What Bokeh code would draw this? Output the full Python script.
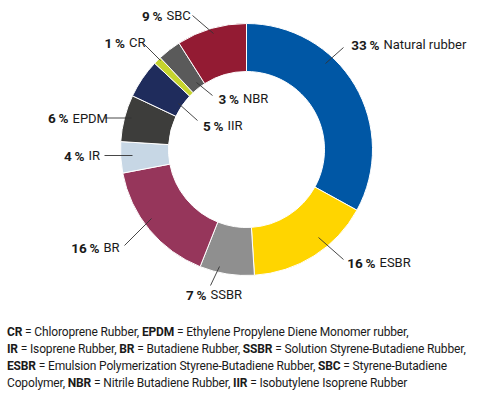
import numpy as np
from bokeh.plotting import figure
from bokeh.models import Range1d, ColumnDataSource, Div
from bokeh.layouts import column
from bokeh.core.properties import value
from bokeh.embed import file_html
from bokeh.resources import INLINE

# ---- data ----
categories = ["Natural rubber", "ESBR", "SSBR", "BR", "IR", "EPDM", "IIR", "CR", "NBR", "SBC"]
shares = [33, 16, 7, 16, 4, 6, 5, 1, 3, 9]
colors = ["#0057A5", "#FFD500", "#8F8F8F", "#96365B", "#C7D7E5",
          "#3D3D3B", "#1F2C5C", "#C6D42E", "#5A5A5A", "#931B33"]

abbrevs = ["CR", "EPDM", "IR", "BR", "SSBR", "ESBR", "SBC", "NBR", "IIR"]
full_names = ["Chloroprene Rubber", "Ethylene Propylene Diene Monomer rubber",
              "Isoprene Rubber", "Butadiene Rubber", "Solution Styrene-Butadiene Rubber",
              "Emulsion Polymerization Styrene-Butadiene Rubber", "Styrene-Butadiene Copolymer",
              "Nitrile Butadiene Rubber", "Isobutylene Isoprene Rubber"]

# ---- layout (page pixel coordinates) ----
W, H = 500, 320
def px(x):
    return x
def py(y):
    return H - y

CX, CY = 246, 149
R_OUT, R_IN = 126, 78

# label layout: boundary x between bold pct and name, y, leader from (x0,y0) to (x1,y1)
label_layout = {
    "Natural rubber": (381, 44, (325, 63), (343, 47)),
    "ESBR": (377, 262, (318, 237), (343, 259)),
    "SSBR": (208, 294, (219, 266), (210, 285)),
    "BR": (101, 247, (151, 218), (124, 245)),
    "IR": (86, 155, (132, 155), (104, 155)),
    "EPDM": (70, 117.5, (131, 117.5), (104, 117.5)),
    "IIR": (225, 125, (178, 103), (197, 120)),
    "CR": (126.5, 42, (160, 60), (143, 43)),
    "NBR": (240.5, 98, (196, 82), (212, 95)),
    "SBC": (164, 15, (213, 33), (192, 15)),
}

p = figure(width=W, height=H, output_backend="svg", toolbar_location=None,
           x_range=Range1d(0, W), y_range=Range1d(0, H),
           x_axis_location=None, y_axis_location=None, min_border=0)
p.outline_line_color = None
p.grid.visible = False
p.background_fill_color = "white"

cum = np.cumsum([0] + shares)
total = cum[-1]
start_deg = 90 - cum[:-1] / total * 360
end_deg = 90 - cum[1:] / total * 360
src = ColumnDataSource(dict(
    cat=categories,
    s=np.radians(end_deg), e=np.radians(start_deg),
    color=colors,
))
p.annular_wedge(x=px(CX), y=py(CY), inner_radius=R_IN, outer_radius=R_OUT,
                start_angle="s", end_angle="e", fill_color="color",
                line_color="white", line_width=1, source=src)

FONT = "Roboto"
TXT = "#1a1a1a"
pct_x, pct_y, pct_t, nm_x, nm_t = [], [], [], [], []
lx, ly = [], []
for cat, sh in zip(categories, shares):
    bx, by, (x0, y0), (x1, y1) = label_layout[cat]
    pct_x.append(px(bx - 2)); pct_y.append(py(by)); pct_t.append(f"{sh}\u2009%")
    nm_x.append(px(bx + 2)); nm_t.append(cat)
    lx.append([px(x0), px(x1)]); ly.append([py(y0), py(y1)])

p.multi_line(xs=lx, ys=ly, line_color="#333333", line_width=0.9)
p.text(x=pct_x, y=pct_y, text=pct_t, text_font=value(FONT), text_font_style="bold",
       text_font_size="13.5px", text_align="right", text_baseline="middle", text_color=TXT)
p.text(x=nm_x, y=pct_y, text=nm_t, text_font=value(FONT),
       text_font_size="13px", text_align="left", text_baseline="middle", text_color=TXT)

# footnote
parts = []
for i, (a, n) in enumerate(zip(abbrevs, full_names)):
    last = i == len(abbrevs) - 1
    if a == "SBC":
        seg = f"<b>{a}</b> = Styrene-Butadiene<br>Copolymer"
    else:
        seg = f"<b>{a}</b> = {n}"
    br = "<br>" if a in ("EPDM", "SSBR") else " "
    parts.append(seg + ("" if last else "," + br))
html = "".join(parts)
div = Div(text=html, width=W, height=394 - H, margin=(0, 0, 0, 0),
          styles={"font-family": "Roboto", "font-size": "12px", "line-height": "17px",
                  "letter-spacing": "-0.15px", "color": TXT, "padding-top": "4px",
                  "padding-left": "7px", "white-space": "nowrap"})

layout = column(p, div, spacing=0)
open("out.html", "w").write(file_html(layout, INLINE))
